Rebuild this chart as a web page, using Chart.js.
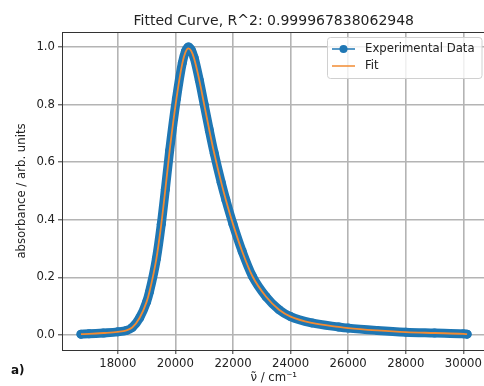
<!DOCTYPE html>
<html lang="en">
<head>
  <meta charset="UTF-8">
  <title>Fitted Curve</title>
  <script src="https://cdn.jsdelivr.net/npm/chart.js"></script>
  <style>
    html, body { margin: 0; padding: 0; background: #fff; overflow: hidden; }
    #wrap { position: relative; width: 484px; height: 386px; overflow: hidden; }
    canvas { display: block; }
    #tag { position: absolute; left: 11px; top: 363px; font: bold 12px 'DejaVu Sans', sans-serif; color: #111; }
  </style>
</head>
<body>
  <div id="wrap">
    <canvas id="chart" width="490" height="386"></canvas>
    <div id="tag">a)</div>
  </div>
  <script>
    // values
    const wavenumber = [16720, 17000, 17500, 18000, 18300, 18500, 18760, 19000, 19100, 19340, 19510, 19650, 19800, 20035, 20240, 20350, 20450, 20550, 20650, 20830, 21000, 21180, 21350, 21590, 21750, 22000, 22320, 22670, 23150, 23600, 24000, 24740, 25670, 26000, 27000, 28000, 29000, 30000, 30130];
    const absorbanceExp = [0.003, 0.004, 0.007, 0.011, 0.016, 0.026, 0.060, 0.115, 0.15, 0.265, 0.385, 0.505, 0.64, 0.82, 0.945, 0.985, 1.0, 0.99, 0.963, 0.885, 0.80, 0.71, 0.63, 0.53, 0.47, 0.385, 0.29, 0.205, 0.133, 0.088, 0.064, 0.042, 0.028, 0.024, 0.016, 0.010, 0.007, 0.004, 0.003];
    const absorbanceFit = [0.003, 0.004, 0.007, 0.011, 0.016, 0.026, 0.060, 0.115, 0.15, 0.265, 0.385, 0.505, 0.64, 0.82, 0.943, 0.982, 0.995, 0.986, 0.96, 0.885, 0.80, 0.71, 0.63, 0.53, 0.47, 0.385, 0.29, 0.205, 0.133, 0.088, 0.064, 0.042, 0.028, 0.024, 0.016, 0.010, 0.007, 0.004, 0.003];
    const xTicks = [18000, 20000, 22000, 24000, 26000, 28000, 30000];
    const yTicks = [0, 0.2, 0.4, 0.6, 0.8, 1.0];
    const seriesNames = ['Experimental Data', 'Fit'];

    const BLUE = '#1f77b4';
    const ORANGE = '#f28b32';
    const FONT = 11.7;

    Chart.defaults.font.family = "'DejaVu Sans', sans-serif";
    Chart.defaults.color = '#222';

    // top spine + matplotlib style legend box
    const frame = {
      id: 'frame',
      afterDraw(chart) {
        const ctx = chart.ctx;
        const a = chart.chartArea;
        ctx.save();
        ctx.strokeStyle = '#333';
        ctx.lineWidth = 1;
        ctx.beginPath();
        ctx.moveTo(a.left, a.top + 0.5);
        ctx.lineTo(a.right, a.top + 0.5);
        ctx.moveTo(a.right - 0.5, a.top);
        ctx.lineTo(a.right - 0.5, a.bottom);
        ctx.stroke();

        const bx = 327, by = a.top + 5, bw = a.right - 4 - bx, bh = 41;
        ctx.fillStyle = 'rgba(255,255,255,0.8)';
        ctx.strokeStyle = '#d0d0d0';
        ctx.beginPath();
        ctx.roundRect(bx + 0.5, by + 0.5, bw, bh, 3);
        ctx.fill();
        ctx.stroke();

        const rows = [by + 12, by + 29];
        ctx.lineWidth = 1.5;
        ctx.strokeStyle = BLUE;
        ctx.beginPath();
        ctx.moveTo(bx + 5, rows[0]);
        ctx.lineTo(bx + 28, rows[0]);
        ctx.stroke();
        ctx.fillStyle = BLUE;
        ctx.beginPath();
        ctx.arc(bx + 16.5, rows[0], 4, 0, Math.PI * 2);
        ctx.fill();
        ctx.strokeStyle = ORANGE;
        ctx.beginPath();
        ctx.moveTo(bx + 5, rows[1]);
        ctx.lineTo(bx + 28, rows[1]);
        ctx.stroke();

        ctx.fillStyle = '#222';
        ctx.font = FONT + "px 'DejaVu Sans', sans-serif";
        ctx.textBaseline = 'middle';
        ctx.textAlign = 'left';
        ctx.fillText(seriesNames[0], bx + 38, rows[0]);
        ctx.fillText(seriesNames[1], bx + 38, rows[1]);
        ctx.restore();
      }
    };

    const ctx = document.getElementById('chart').getContext('2d');
    new Chart(ctx, {
      type: 'line',
      data: {
        datasets: [
          {
            label: seriesNames[0],
            data: wavenumber.map((x, i) => ({ x: x, y: absorbanceExp[i] })),
            borderColor: BLUE,
            backgroundColor: BLUE,
            borderWidth: 9,
            borderCapStyle: 'round',
            borderJoinStyle: 'round',
            pointRadius: 4.5,
            pointBorderWidth: 0,
            cubicInterpolationMode: 'monotone',
            fill: false,
            order: 1
          },
          {
            label: seriesNames[1],
            data: wavenumber.map((x, i) => ({ x: x, y: absorbanceFit[i] })),
            borderColor: ORANGE,
            borderWidth: 1.8,
            pointRadius: 0,
            cubicInterpolationMode: 'monotone',
            fill: false,
            order: 0
          }
        ]
      },
      options: {
        responsive: false,
        animation: false,
        devicePixelRatio: 1,
        layout: { padding: { left: 0, right: 3, top: 0, bottom: 0 } },
        plugins: {
          legend: { display: false },
          tooltip: { enabled: false },
          title: {
            display: true,
            fullSize: false,
            text: 'Fitted Curve, R^2: 0.999967838062948',
            color: '#222',
            font: { size: 14, weight: 'normal' },
            padding: { top: 12.6, bottom: 2.6 }
          }
        },
        scales: {
          x: {
            type: 'linear',
            min: 16062,
            max: 30768,
            afterBuildTicks: s => { s.ticks = xTicks.map(v => ({ value: v })); },
            afterFit: s => { s.height = 36; },
            grid: { color: '#b4b4b4', lineWidth: 1.6, tickLength: 4, tickColor: '#333', tickWidth: 1 },
            border: { display: true, color: '#333', width: 1 },
            ticks: { font: { size: FONT }, padding: 3, maxRotation: 0, autoSkip: false, callback: v => String(v) },
            title: { display: true, text: 'ν̃ / cm⁻¹', font: { size: FONT }, padding: { top: 0, bottom: 1 } }
          },
          y: {
            type: 'linear',
            min: -0.052,
            max: 1.052,
            afterBuildTicks: s => { s.ticks = yTicks.map(v => ({ value: v })); },
            afterFit: s => { s.width = 62; },
            grid: { color: '#b4b4b4', lineWidth: 1.6, tickLength: 4, tickColor: '#333', tickWidth: 1 },
            border: { display: true, color: '#333', width: 1 },
            ticks: { font: { size: FONT }, padding: 3, autoSkip: false, callback: v => v.toFixed(1) },
            title: { display: true, text: 'absorbance / arb. units', font: { size: FONT }, padding: { top: 15, bottom: 0 } }
          }
        }
      },
      plugins: [frame]
    });
  </script>
</body>
</html>
